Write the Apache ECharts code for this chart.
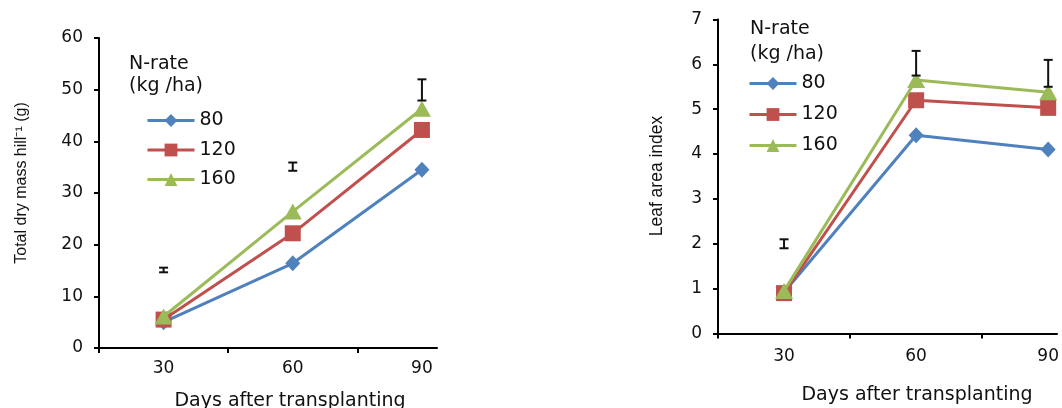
<!DOCTYPE html>
<html>
<head>
<meta charset="utf-8">
<script src="https://cdn.jsdelivr.net/npm/echarts@6/dist/echarts.min.js"></script>
<style>html,body{margin:0;padding:0;background:#fff;}#c{width:1062px;height:408px;}</style>
</head>
<body>
<div id="c"></div>
<script>
// ---- data ----
const days = [30, 60, 90];
const xTickValues = [15, 45, 75];
const seriesNames = ['80', '120', '160'];
// Total dry mass hill-1 (g)
const dryMass80 = [5.0, 16.4, 34.5];
const dryMass120 = [5.5, 22.2, 42.2];
const dryMass160 = [6.1, 26.4, 46.3];
// error bars: [day, low, high]
const dryMassErr = [[30, 14.65, 15.55], [60, 34.3, 35.9], [90, 47.9, 52.0]];
// Leaf area index
const lai80 = [0.92, 4.42, 4.10];
const lai120 = [0.90, 5.20, 5.03];
const lai160 = [0.95, 5.65, 5.38];
const laiErr = [[30, 1.9, 2.1], [60, 5.75, 6.30], [90, 5.50, 6.10]];

// ---- styles ----
const colors = ['#4F81BD', '#C0504D', '#9BBB59'];
const symbols = ['diamond', 'rect', 'triangle'];
const symbolSizes = [[15, 16], 16, [18, 16]];
const numFont = 'DejaVu Sans';

const pair = arr => days.map((d, i) => [d, arr[i]]);

function errItem(params, api) {
  const x = api.value(0);
  const lo = api.coord([x, api.value(1)]);
  const hi = api.coord([x, api.value(2)]);
  const w = 4.5;
  const st = { stroke: '#111', lineWidth: 2, fill: null };
  return {
    type: 'group',
    children: [
      { type: 'line', shape: { x1: lo[0], y1: lo[1], x2: hi[0], y2: hi[1] }, style: st },
      { type: 'line', shape: { x1: lo[0] - w, y1: lo[1], x2: lo[0] + w, y2: lo[1] }, style: st },
      { type: 'line', shape: { x1: hi[0] - w, y1: hi[1], x2: hi[0] + w, y2: hi[1] }, style: st }
    ]
  };
}

function lineSeries(name, idx, data, axisIdx) {
  return {
    name: name, type: 'line', xAxisIndex: axisIdx, yAxisIndex: axisIdx,
    data: pair(data), symbol: symbols[idx], symbolSize: symbolSizes[idx],
    clip: false, z: 2 + idx,
    lineStyle: { color: colors[idx], width: 3 },
    itemStyle: { color: colors[idx] }
  };
}

function xAxisCfg(gridIdx, max, margin) {
  return {
    type: 'value', gridIndex: gridIdx, min: 15, max: max,
    axisLine: { show: true, lineStyle: { color: '#000', width: 2 } },
    axisTick: { show: true, customValues: xTickValues, length: 5, inside: false, lineStyle: { color: '#000', width: 2 } },
    axisLabel: { customValues: days, color: '#111', fontFamily: numFont, fontSize: 17, margin: margin },
    splitLine: { show: false }
  };
}

function yAxisCfg(gridIdx, max) {
  return {
    type: 'value', gridIndex: gridIdx, min: 0, max: max, interval: gridIdx === 0 ? 10 : 1,
    axisLine: { show: true, lineStyle: { color: '#000', width: 2 } },
    axisTick: { show: true, length: 5, lineStyle: { color: '#000', width: 2 } },
    axisLabel: { color: '#111', fontFamily: numFont, fontSize: 17, margin: 16 },
    splitLine: { show: false }
  };
}

function legendCfg(left, top, gap) {
  return {
    data: seriesNames, orient: 'vertical', left: left, top: top,
    itemWidth: 47, itemHeight: 16, itemGap: gap, selectedMode: false,
    lineStyle: { width: 3 },
    textStyle: { fontFamily: numFont, fontSize: 19, color: '#111', lineHeight: 16 }
  };
}

const chart = echarts.init(document.getElementById('c'), null, { renderer: 'canvas' });
chart.setOption({
  animation: false,
  backgroundColor: '#fff',
  grid: [
    { left: 99, top: 38, width: 338, height: 310 },
    { left: 718, top: 19.5, width: 344, height: 314 }
  ],
  xAxis: [xAxisCfg(0, 93.5, 12), xAxisCfg(1, 92, 15)],
  yAxis: [yAxisCfg(0, 60), yAxisCfg(1, 7)],
  legend: [legendCfg(141, 106, 10.5), legendCfg(743, 69, 12)],
  graphic: [
    { type: 'text', left: 129, top: 55, style: { text: 'N-rate', font: '19px "DejaVu Sans"', fill: '#111' } },
    { type: 'text', left: 129, top: 77, style: { text: '(kg /ha)', font: '19px "DejaVu Sans"', fill: '#111' } },
    { type: 'text', left: 750, top: 20, style: { text: 'N-rate', font: '19px "DejaVu Sans"', fill: '#111' } },
    { type: 'text', left: 750, top: 45, style: { text: '(kg /ha)', font: '19px "DejaVu Sans"', fill: '#111' } },
    { type: 'text', x: 290, y: 401, style: { text: 'Days after transplanting', font: '19px "DejaVu Sans"', fill: '#111', align: 'center', verticalAlign: 'middle' } },
    { type: 'text', x: 917, y: 395, style: { text: 'Days after transplanting', font: '19px "DejaVu Sans"', fill: '#111', align: 'center', verticalAlign: 'middle' } },
    { type: 'text', x: 22, y: 183, rotation: Math.PI / 2, style: { text: 'Total dry mass hill\u207B\u00B9 (g)', font: '16px "Liberation Sans"', fill: '#111', align: 'center', verticalAlign: 'middle' } },
    { type: 'text', x: 657, y: 176, rotation: Math.PI / 2, style: { text: 'Leaf area index', font: '17.5px "Liberation Sans"', fill: '#111', align: 'center', verticalAlign: 'middle' } }
  ],
  series: [
    lineSeries('80', 0, dryMass80, 0),
    lineSeries('120', 1, dryMass120, 0),
    lineSeries('160', 2, dryMass160, 0),
    { type: 'custom', xAxisIndex: 0, yAxisIndex: 0, renderItem: errItem, data: dryMassErr, z: 10, clip: false, silent: true },
    lineSeries('80', 0, lai80, 1),
    lineSeries('120', 1, lai120, 1),
    lineSeries('160', 2, lai160, 1),
    { type: 'custom', xAxisIndex: 1, yAxisIndex: 1, renderItem: errItem, data: laiErr, z: 10, clip: false, silent: true }
  ]
});
</script>
</body>
</html>
